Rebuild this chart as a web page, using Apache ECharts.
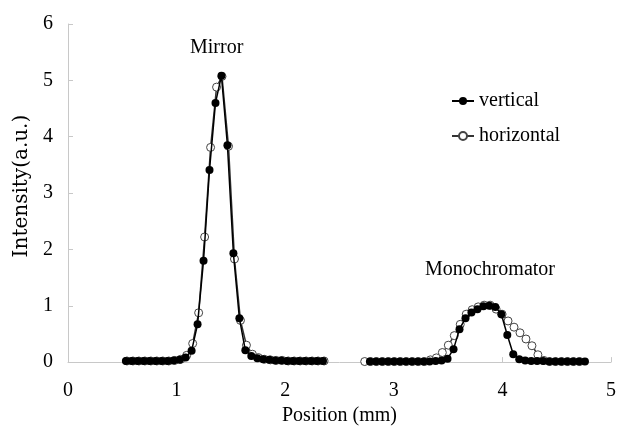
<!DOCTYPE html>
<html>
<head>
<meta charset="utf-8">
<script src="https://cdn.jsdelivr.net/npm/echarts@6/dist/echarts.min.js"></script>
<style>html,body{margin:0;padding:0;background:#fff;}#c{width:619px;height:431px;}</style>
</head>
<body>
<div id="c"></div>
<script>
var xTicks = [0, 1, 2, 3, 4, 5];
var yTicks = [0, 1, 2, 3, 4, 5, 6];

var vMirrorX = [0.533,0.588,0.643,0.698,0.753,0.808,0.863,0.918,0.973,1.028,1.083,1.138,1.193,1.248,1.303,1.358,1.413,1.468,1.523,1.578,1.633,1.688,1.743,1.798,1.853,1.908,1.963,2.018,2.073,2.128,2.183,2.238,2.293,2.348];
var vMirrorY = [0.02,0.02,0.02,0.02,0.02,0.02,0.02,0.02,0.03,0.04,0.08,0.20,0.67,1.80,3.41,4.60,5.08,3.85,1.93,0.78,0.21,0.11,0.07,0.05,0.04,0.03,0.03,0.02,0.02,0.02,0.02,0.02,0.02,0.02];

var hMirrorX = [0.543,0.598,0.653,0.708,0.763,0.818,0.873,0.928,0.983,1.038,1.093,1.148,1.203,1.258,1.313,1.368,1.418,1.478,1.533,1.588,1.643,1.698,1.753,1.808,1.863,1.918,1.973,2.028,2.083,2.138,2.193,2.248,2.303,2.358];
var hMirrorY = [0.02,0.02,0.02,0.02,0.02,0.02,0.02,0.02,0.03,0.05,0.12,0.33,0.875,2.22,3.81,4.88,5.07,3.83,1.83,0.74,0.30,0.14,0.08,0.05,0.04,0.03,0.03,0.02,0.02,0.02,0.02,0.02,0.02,0.02];

var vMonoX = [2.780,2.835,2.890,2.945,3.000,3.055,3.110,3.165,3.220,3.275,3.330,3.385,3.440,3.495,3.550,3.605,3.660,3.715,3.770,3.825,3.880,3.935,3.990,4.045,4.100,4.155,4.210,4.265,4.320,4.375,4.430,4.485,4.540,4.595,4.650,4.705,4.760];
var vMonoY = [0.01,0.01,0.01,0.01,0.01,0.01,0.01,0.01,0.01,0.01,0.01,0.02,0.03,0.06,0.23,0.585,0.78,0.88,0.94,0.99,1.00,0.98,0.85,0.48,0.14,0.05,0.03,0.02,0.02,0.02,0.01,0.01,0.01,0.01,0.01,0.01,0.01];

var hMonoX = [2.732,2.787,2.842,2.897,2.952,3.007,3.062,3.117,3.172,3.227,3.282,3.337,3.392,3.447,3.502,3.557,3.612,3.667,3.722,3.777,3.832,3.887,3.942,3.997,4.052,4.107,4.162,4.217,4.272,4.327,4.382,4.437,4.492,4.547,4.602,4.657,4.712];
var hMonoY = [0.01,0.01,0.01,0.01,0.01,0.01,0.01,0.01,0.01,0.01,0.01,0.04,0.075,0.17,0.30,0.47,0.67,0.85,0.93,0.98,1.01,1.01,0.94,0.85,0.73,0.62,0.52,0.41,0.29,0.13,0.03,0.01,0.01,0.01,0.01,0.01,0.01];

var FONT = '"Liberation Serif", "Times New Roman", serif';
var FONT_WIDE = '"DejaVu Serif", serif';

function pairs(xs, ys) { return xs.map(function (x, i) { return [x, ys[i]]; }); }

var vStyle = {
  type: 'line', name: 'vertical', symbol: 'circle', symbolSize: 8, showSymbol: true,
  itemStyle: { color: '#000' }, lineStyle: { color: '#000', width: 1.5 }, z: 3
};
var hStyle = {
  type: 'line', name: 'horizontal', symbol: 'circle', symbolSize: 8, showSymbol: true,
  itemStyle: { color: '#fff', borderColor: '#444', borderWidth: 1 }, lineStyle: { color: '#333', width: 1.5 }, z: 2
};

function mk(base, data) {
  var s = {}; for (var k in base) s[k] = base[k]; s.data = data; return s;
}

var chart = echarts.init(document.getElementById('c'), null, { renderer: 'canvas' });
chart.setOption({
  animation: false,
  backgroundColor: '#fff',
  grid: { left: 68, right: 7, top: 24, bottom: 58, containLabel: false },
  legend: {
    data: ['vertical', 'horizontal'],
    orient: 'vertical', left: 446, top: 86,
    itemWidth: 22, itemHeight: 10, itemGap: 15,
    textStyle: { fontFamily: FONT, fontSize: 20, color: '#000' }
  },
  xAxis: {
    type: 'value', min: xTicks[0], max: xTicks[xTicks.length - 1], interval: 1,
    axisLine: { show: true, lineStyle: { color: '#c8c8c8', width: 1 } },
    axisTick: { show: true, inside: true, length: 5, lineStyle: { color: '#c8c8c8' } },
    splitLine: { show: false },
    axisLabel: { fontFamily: FONT, fontSize: 20, color: '#000', margin: 19 },
    name: 'Position (mm)', nameLocation: 'middle', nameGap: 31,
    nameTextStyle: { fontFamily: FONT, fontSize: 20, color: '#000' }
  },
  yAxis: {
    type: 'value', min: yTicks[0], max: yTicks[yTicks.length - 1], interval: 1,
    axisLine: { show: true, lineStyle: { color: '#c8c8c8', width: 1 } },
    axisTick: { show: true, inside: true, length: 5, lineStyle: { color: '#c8c8c8' } },
    splitLine: { show: false },
    axisLabel: { fontFamily: FONT, fontSize: 20, color: '#000', margin: 15 },
    name: 'Intensity(a.u.)', nameLocation: 'middle', nameGap: 36, nameRotate: 90,
    nameTextStyle: { fontFamily: FONT_WIDE, fontSize: 20, color: '#000', padding: [0, 0, 0, 14] }
  },
  graphic: [
    { type: 'text', left: 190, top: 38, style: { text: 'Mirror', font: '20px ' + FONT, fill: '#000' } },
    { type: 'text', left: 425, top: 260, style: { text: 'Monochromator', font: '20px ' + FONT, fill: '#000' } }
  ],
  series: [
    mk(hStyle, pairs(hMirrorX, hMirrorY)),
    mk(hStyle, pairs(hMonoX, hMonoY)),
    mk(vStyle, pairs(vMirrorX, vMirrorY)),
    mk(vStyle, pairs(vMonoX, vMonoY))
  ]
});
</script>
</body>
</html>
